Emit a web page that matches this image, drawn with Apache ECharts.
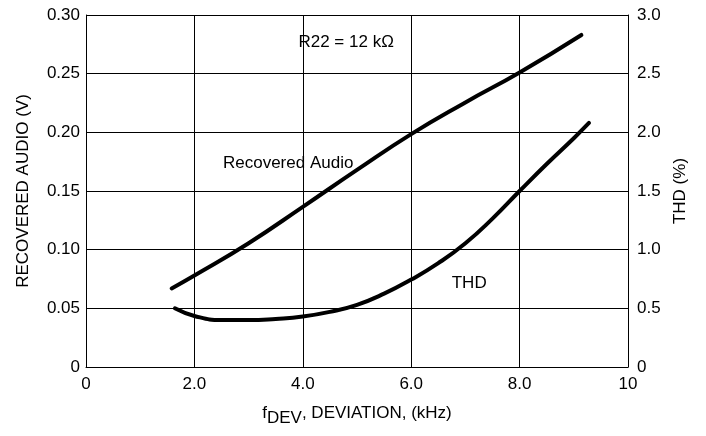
<!DOCTYPE html>
<html>
<head>
<meta charset="utf-8">
<script src="https://cdn.jsdelivr.net/npm/echarts@6/dist/echarts.min.js"></script>
<style>
html,body{margin:0;padding:0;background:#fff;}
#chart{width:706px;height:436px;}
</style>
</head>
<body>
<div id="chart"></div>
<script>
// Data
var xTicks = [0, 2, 4, 6, 8, 10];
var xTickLabels = ['0', '2.0', '4.0', '6.0', '8.0', '10'];
var leftTickLabels = ['0', '0.05', '0.10', '0.15', '0.20', '0.25', '0.30'];
var rightTickLabels = ['0', '0.5', '1.0', '1.5', '2.0', '2.5', '3.0'];

// Recovered Audio (V) vs deviation (kHz)
var recoveredX = [1.58, 2.0, 3.0, 4.0, 5.0, 6.0, 7.0, 8.0, 9.14];
var recoveredY = [0.067, 0.078, 0.1055, 0.1365, 0.168, 0.1985, 0.2255, 0.251, 0.283];

// THD (%) vs deviation (kHz)
var thdX = [1.64, 2.0, 2.5, 3.0, 3.5, 4.0, 4.5, 5.0, 5.5, 6.0, 6.5, 7.0, 7.5, 8.0, 8.5, 9.0, 9.28];
var thdY = [0.50, 0.435, 0.40, 0.40, 0.41, 0.43, 0.47, 0.53, 0.625, 0.745, 0.885, 1.055, 1.265, 1.50, 1.73, 1.95, 2.08];

// Annotations
var notes = [
  {text: 'R22 = 12 k\u03A9', x: 4.8, y: 0.277},
  {text: 'Recovered Audio', x: 3.73, y: 0.174},
  {text: 'THD', x: 7.07, y: 0.0716}
];

function zip(a, b) { return a.map(function (v, i) { return [v, b[i]]; }); }

var FONT = 'Liberation Sans, Arial, sans-serif';
var chart = echarts.init(document.getElementById('chart'));
var gridLine = {show: true, lineStyle: {color: '#000', width: 1}};

chart.setOption({
  backgroundColor: '#fff',
  animation: false,
  textStyle: {fontFamily: FONT, color: '#000'},
  grid: {left: 86, right: 78, top: 15, bottom: 69, containLabel: false},
  xAxis: {
    type: 'value', min: 0, max: 10, interval: 2,
    axisLine: {show: true, lineStyle: {color: '#000', width: 1}},
    axisTick: {show: false},
    splitLine: gridLine,
    axisLabel: {
      color: '#000', fontSize: 17, fontFamily: FONT, margin: 9,
      formatter: function (v) { var i = xTicks.indexOf(v); return i >= 0 ? xTickLabels[i] : ''; }
    },
    name: '{f|f}{sub|DEV}{t|, DEVIATION, (kHz)}',
    nameLocation: 'middle', nameGap: 33,
    nameTextStyle: {
      rich: {
        f: {fontSize: 17, fontFamily: FONT, color: '#000'},
        sub: {fontSize: 17, fontFamily: FONT, color: '#000', verticalAlign: 'top', padding: [10, 0, 0, 0]},
        t: {fontSize: 17, fontFamily: FONT, color: '#000'}
      }
    }
  },
  yAxis: [
    {
      type: 'value', min: 0, max: 0.30, interval: 0.05,
      axisLine: {show: true, lineStyle: {color: '#000', width: 1}},
      axisTick: {show: false},
      splitLine: gridLine,
      axisLabel: {
        color: '#000', fontSize: 17, fontFamily: FONT, margin: 6,
        formatter: function (v) { return leftTickLabels[Math.round(v / 0.05)]; }
      },
      name: 'RECOVERED AUDIO (V)', nameLocation: 'middle', nameGap: 54, nameRotate: 90,
      nameTextStyle: {fontSize: 17, fontFamily: FONT, color: '#000'}
    },
    {
      type: 'value', min: 0, max: 3.0, interval: 0.5, position: 'right',
      axisLine: {show: true, lineStyle: {color: '#000', width: 1}},
      axisTick: {show: false},
      splitLine: {show: false},
      axisLabel: {
        color: '#000', fontSize: 17, fontFamily: FONT, margin: 9,
        formatter: function (v) { return rightTickLabels[Math.round(v / 0.5)]; }
      },
      name: 'THD (%)', nameLocation: 'middle', nameGap: 40, nameRotate: 90,
      nameTextStyle: {fontSize: 17, fontFamily: FONT, color: '#000'}
    }
  ],
  series: [
    {
      name: 'Recovered Audio', type: 'line', yAxisIndex: 0, smooth: 0.5,
      showSymbol: false, symbol: 'none',
      lineStyle: {color: '#000', width: 4, cap: 'round'},
      data: zip(recoveredX, recoveredY),
      markPoint: {
        symbol: 'circle', symbolSize: 0, silent: true,
        label: {show: true, position: 'inside', color: '#000', fontSize: 17, fontFamily: FONT,
          formatter: function (p) { return p.name; }},
        data: notes.map(function (n) { return {name: n.text, coord: [n.x, n.y]}; })
      }
    },
    {
      name: 'THD', type: 'line', yAxisIndex: 1, smooth: 0.5,
      showSymbol: false, symbol: 'none',
      lineStyle: {color: '#000', width: 4, cap: 'round'},
      data: zip(thdX, thdY)
    }
  ]
});
</script>
</body>
</html>
